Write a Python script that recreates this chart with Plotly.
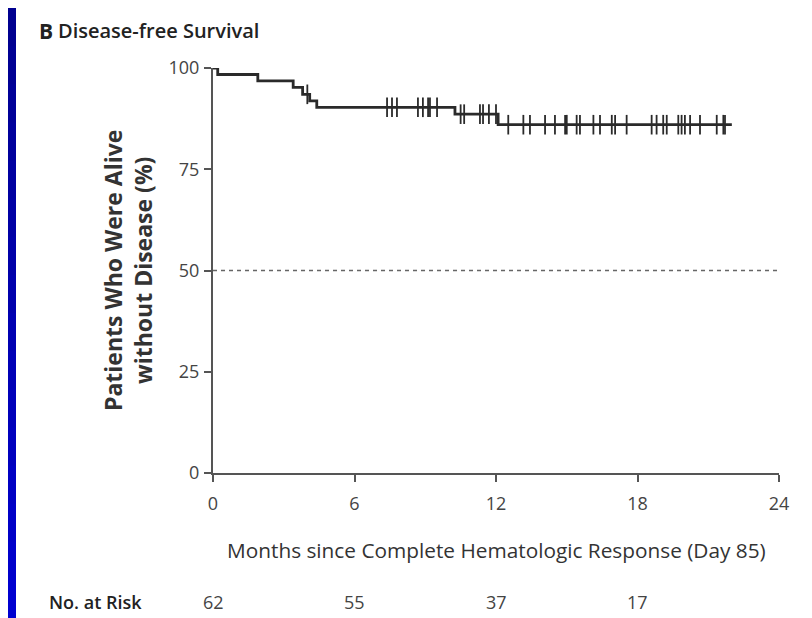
import plotly.graph_objects as go

# ---- data ----
event_times = [0, 0.2, 1.9, 3.4, 3.8, 4.1, 4.4, 10.26, 12.09, 22.0]
survival = [100, 98.4, 96.8, 95.2, 93.5, 91.9, 90.3, 88.6, 86.0, 86.0]
censor_times = [4.0,
                7.38, 7.59, 7.8, 8.69, 8.9, 9.12, 9.2, 9.5,
                10.5, 10.65, 11.32, 11.45, 11.7, 12.0,
                12.52, 13.16, 13.44, 14.08, 14.5, 14.93, 15.0, 15.42, 15.56,
                16.13, 16.41, 16.91, 17.05, 17.54, 18.6, 18.81, 19.09, 19.24,
                19.73, 19.87, 20.01, 20.23, 20.65, 21.36, 21.64, 21.71]
x_ticks = [0, 6, 12, 18, 24]
y_ticks = [0, 25, 50, 75, 100]
risk_times = [0, 6, 12, 18]
at_risk = [62, 55, 37, 17]

def surv_at(t):
    s = survival[0]
    for et, sv in zip(event_times, survival):
        if et <= t:
            s = sv
    return s

censor_surv = [surv_at(t) for t in censor_times]

# ---- geometry (window pixels; page body has an 8px margin) ----
OFF = 8
WIN_W, WIN_H = 812, 618
W, H = WIN_W - OFF, WIN_H - OFF
L, R, T, B = 213, 779, 68, 473          # plot area in window pixels
def px2x(p):
    return (p - L) / (R - L)
def px2y(p):
    return (B - p) / (B - T)

FONT = "Open Sans, Liberation Sans, sans-serif"
INK = "#333333"

fig = go.Figure()
fig.add_trace(go.Scatter(x=[0, 24], y=[50, 50], mode="lines",
                         line=dict(color="#666666", width=1.5, dash="4px,4px"),
                         hoverinfo="skip", showlegend=False))
fig.add_trace(go.Scatter(x=event_times, y=survival, mode="lines",
                         line=dict(color="#2a2a2a", width=2.8, shape="hv"),
                         showlegend=False))
fig.add_trace(go.Scatter(x=censor_times, y=censor_surv, mode="markers",
                         marker=dict(symbol="line-ns", size=14,
                                     line=dict(color="#2a2a2a", width=1.8)),
                         showlegend=False, cliponaxis=False))

annotations = [
    dict(text="<b>B</b>", x=px2x(37), y=px2y(31), xanchor="left", yanchor="middle",
         font=dict(size=21, color="#222222", family=FONT)),
    dict(text="Disease-free Survival", x=px2x(56), y=px2y(31), xanchor="left",
         yanchor="middle", font=dict(size=20, color="#222222", family=FONT, weight=600)),
    dict(text="<b>Patients Who Were Alive<br>without Disease (%)</b>", x=px2x(128),
         y=px2y(271), xanchor="center", yanchor="middle", textangle=-90,
         font=dict(size=23, color=INK, family=FONT)),
    dict(text="Months since Complete Hematologic Response (Day 85)", x=px2x(496),
         y=px2y(550), xanchor="center", yanchor="middle",
         font=dict(size=20.8, color=INK, family=FONT)),
    dict(text="No. at Risk", x=px2x(47), y=px2y(602), xanchor="left", yanchor="middle",
         font=dict(size=18, color="#222222", family=FONT, weight=600)),
]
for t, n in zip(risk_times, at_risk):
    annotations.append(dict(text=str(n), x=t, xref="x", y=px2y(602), yref="paper",
                            xanchor="center", yanchor="middle", showarrow=False,
                            font=dict(size=18, color="#444444", family=FONT)))
for a in annotations:
    a.setdefault("xref", "paper")
    a.setdefault("yref", "paper")
    a.setdefault("showarrow", False)

# blue frame: left gradient strip (window x 8..16)
shapes = []
n = 16
for i in range(n):
    y0p = OFF + (WIN_H - OFF) * i / n
    y1p = OFF + (WIN_H - OFF) * (i + 1) / n
    b = int(0x90 + (0xD0 - 0x90) * i / (n - 1))
    shapes.append(dict(type="rect", xref="paper", yref="paper", x0=px2x(OFF), x1=px2x(16),
                       y0=px2y(y0p), y1=px2y(y1p + 1), fillcolor=f"#0000{b:02X}",
                       line=dict(width=0)))

fig.update_layout(
    width=W, height=H,
    margin=dict(l=L - OFF, r=WIN_W - R, t=T - OFF, b=WIN_H - B, pad=0),
    paper_bgcolor="white", plot_bgcolor="white",
    annotations=annotations, shapes=shapes,
    xaxis=dict(range=[0, 24], tickvals=x_ticks, ticktext=[str(v) for v in x_ticks],
               showgrid=False, zeroline=False, showline=True, linecolor="#555555",
               linewidth=2, ticks="outside", ticklen=7, tickwidth=2, tickcolor="#555555",
               tickfont=dict(size=18, color="#444444", family=FONT),
               ticklabelstandoff=6),
    yaxis=dict(range=[0, 100], tickvals=y_ticks, ticktext=[str(v) for v in y_ticks],
               showgrid=False, zeroline=False, showline=True, linecolor="#555555",
               linewidth=2, ticks="outside", ticklen=7, tickwidth=2, tickcolor="#555555",
               tickfont=dict(size=18, color="#444444", family=FONT),
               ticklabelstandoff=1),
)
fig.write_html("out.html")
